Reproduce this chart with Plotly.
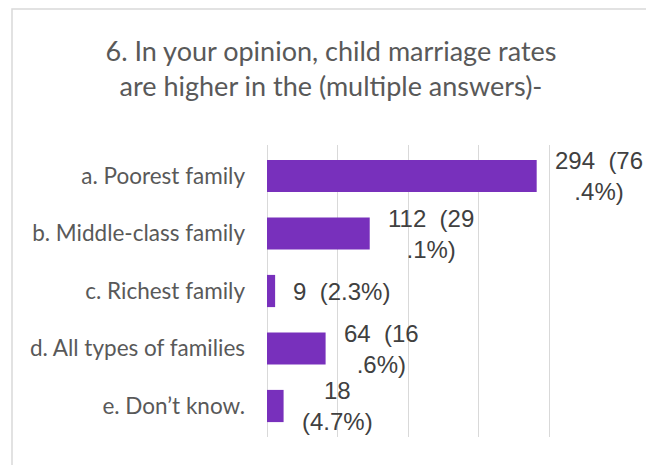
import plotly.graph_objects as go

categories = [
    "a. Poorest family",
    "b. Middle-class family",
    "c. Richest family",
    "d. All types of families",
    "e. Don\u2019t know.",
]
counts = [294, 112, 9, 64, 18]
percents = [76.4, 29.1, 2.3, 16.6, 4.7]
value_labels = [
    "294\u00a0\u00a0(76<br>.4%)",
    "112\u00a0\u00a0(29<br>.1%)",
    "9\u00a0\u00a0(2.3%)",
    "64\u00a0\u00a0(16<br>.6%)",
    "18<br>(4.7%)",
]
title_text = "6. In your opinion, child marriage rates<br>are higher in the (multiple answers)-"

W, H = 646, 465
L, R, T, B = 267, 26, 145, 28

fig = go.Figure()
fig.add_trace(go.Bar(
    x=percents,
    y=categories,
    orientation="h",
    marker=dict(color="#7830BC", line=dict(width=0)),
    hoverinfo="skip",
))

for cat, pct, lab in zip(categories, percents, value_labels):
    fig.add_annotation(
        x=pct, y=cat, xref="x", yref="y",
        text=lab, showarrow=False,
        xanchor="left", yanchor="middle", xshift=16, align="center",
        font=dict(family="Liberation Sans, Arial, sans-serif", size=24, color="#404040"),
    )

pw = W - L - R
ph = H - T - B
fig.add_shape(
    type="rect", xref="paper", yref="paper",
    x0=(12 - L) / pw, x1=(W + 20 - L) / pw,
    y0=-0.5, y1=(H - B - 9) / ph,
    line=dict(color="#d9d9d9", width=1.5), fillcolor="rgba(0,0,0,0)", layer="below",
)

fig.update_layout(
    width=W, height=H,
    margin=dict(l=L, r=R, t=T, b=B, autoexpand=False),
    paper_bgcolor="white", plot_bgcolor="white",
    showlegend=False,
    bargap=0.44,
    title=dict(
        text=title_text,
        x=331 / W, xanchor="center", xref="container",
        y=1 - 61 / H, yanchor="top", yref="container",
        font=dict(family="Lato, sans-serif", size=27, color="#595959"),
    ),
    xaxis=dict(
        range=[0, 100], dtick=20, showticklabels=False, ticks="",
        showgrid=True, gridcolor="#d9d9d9", gridwidth=1.3,
        zeroline=True, zerolinecolor="#d9d9d9", zerolinewidth=1.3,
        showline=False, fixedrange=True,
    ),
    yaxis=dict(
        autorange="reversed", showgrid=False, zeroline=False, showline=False,
        ticks="", ticklabelstandoff=21,
        tickfont=dict(family="Lato, sans-serif", size=22.5, color="#595959"),
        fixedrange=True,
    ),
)

fig.write_html(
    "out.html",
    config={"displayModeBar": False},
    post_script="document.body.style.margin='0';document.body.style.overflow='hidden';",
)
